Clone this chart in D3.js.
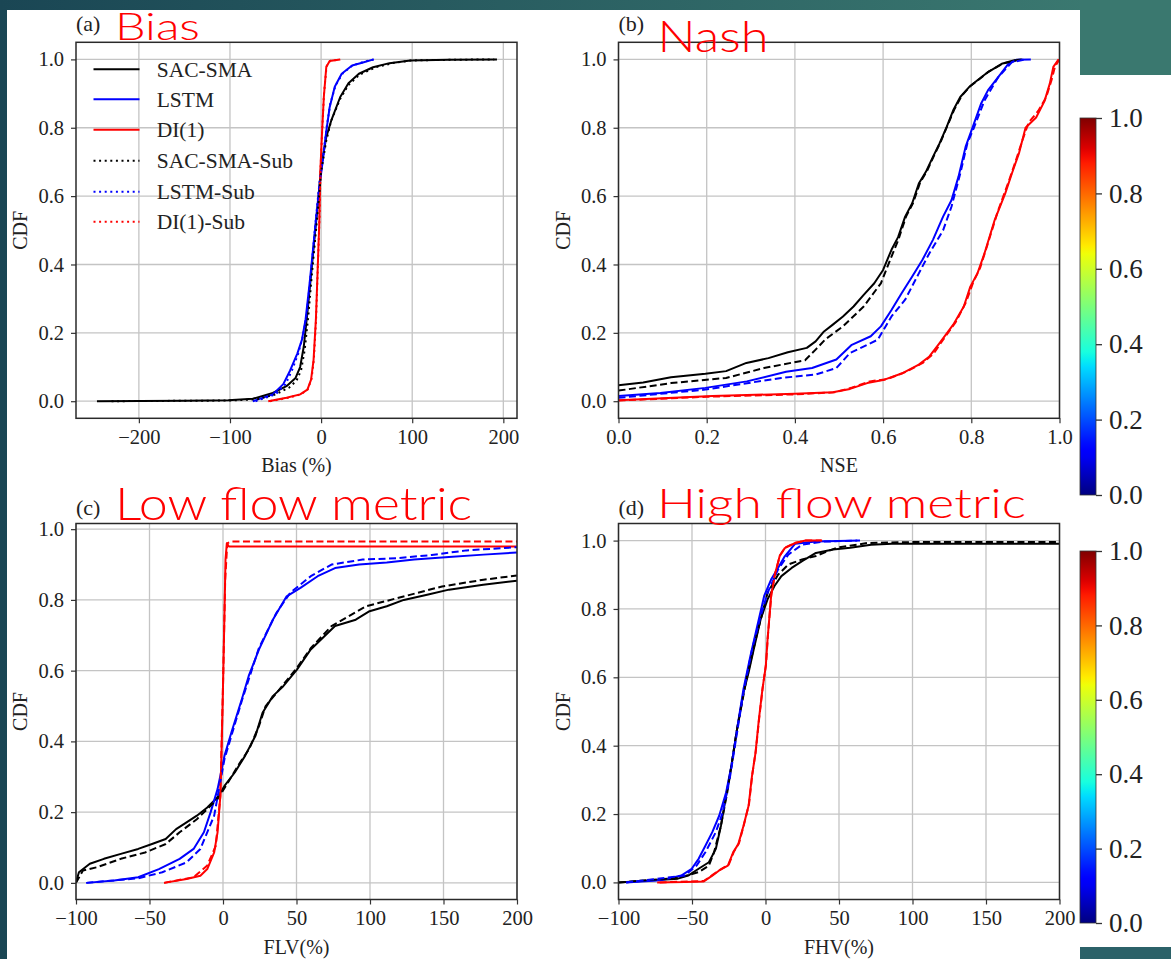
<!DOCTYPE html>
<html>
<head>
<meta charset="utf-8">
<title>CDF of Bias, NSE, FLV, FHV</title>
<style>
  html, body { margin: 0; padding: 0; background: #1c4a56; }
  svg { display: block; }
</style>
</head>
<body>
<script src="https://cdn.jsdelivr.net/npm/d3@7"></script>
<script>
// values, each point is [metric value, CDF]
var biasSac = [[-246,0],[-150,0.001],[-102,0.003],[-75,0.007],[-53,0.024],[-38,0.044],[-28,0.068],[-23,0.10],[-19,0.16],[-15,0.26],[-11,0.37],[-7.5,0.47],[-3.8,0.57],[0,0.686],[5.7,0.773],[11,0.82],[21,0.89],[30,0.93],[41.5,0.958],[57,0.977],[75,0.989],[98,0.997],[140,0.999],[193,1.0]];
var biasLstm = [[-75,0],[-53,0.02],[-41.5,0.05],[-34,0.09],[-26,0.14],[-21,0.18],[-17,0.24],[-13,0.335],[-9.4,0.43],[-5.7,0.53],[-1.9,0.627],[1.9,0.705],[5.7,0.79],[9.4,0.86],[15,0.92],[22.6,0.958],[34,0.982],[45,0.99],[57.7,1]];
var biasDi = [[-58,0],[-38,0.01],[-23,0.02],[-15,0.034],[-11,0.063],[-8.3,0.12],[-5.7,0.24],[-3.8,0.384],[-1.9,0.53],[-0.8,0.676],[1.1,0.79],[3,0.89],[5.7,0.978],[9.4,0.995],[20.8,1]];
var biasSacSub = [[-230,0],[-100,0.002],[-70,0.006],[-50,0.02],[-35,0.04],[-27,0.06],[-22,0.09],[-18,0.15],[-14,0.25],[-10.5,0.36],[-7,0.46],[-3.5,0.56],[0,0.67],[5.5,0.76],[11,0.82],[21,0.885],[30,0.925],[42,0.955],[60,0.977],[80,0.99],[100,0.997],[150,0.999],[190,1]];
var biasLstmSub = [[-72,0],[-50,0.02],[-39,0.05],[-32,0.09],[-25,0.14],[-20,0.19],[-16,0.25],[-12.5,0.34],[-9,0.44],[-5.5,0.54],[-1.8,0.64],[2,0.71],[6,0.8],[10,0.87],[16,0.925],[24,0.96],[35,0.983],[46,0.992],[58,1]];
var biasDiSub = [[-56,0],[-36,0.01],[-22,0.02],[-14.5,0.035],[-10.5,0.065],[-8,0.12],[-5.5,0.24],[-3.6,0.39],[-1.7,0.54],[-0.6,0.68],[1.3,0.8],[3.2,0.9],[6,0.98],[10,0.996],[21,1]];

var nseSac = [[0,0.047],[0.056,0.055],[0.119,0.07],[0.197,0.08],[0.244,0.088],[0.29,0.112],[0.34,0.126],[0.384,0.143],[0.427,0.156],[0.447,0.175],[0.466,0.204],[0.486,0.224],[0.509,0.248],[0.533,0.277],[0.556,0.311],[0.58,0.345],[0.6,0.384],[0.619,0.443],[0.634,0.48],[0.65,0.54],[0.666,0.579],[0.681,0.637],[0.697,0.671],[0.713,0.715],[0.728,0.754],[0.744,0.802],[0.759,0.851],[0.775,0.89],[0.795,0.919],[0.814,0.939],[0.838,0.963],[0.869,0.987],[0.9,0.998],[0.916,1]];
var nseLstm = [[0,0.015],[0.095,0.024],[0.197,0.039],[0.291,0.058],[0.38,0.086],[0.439,0.097],[0.494,0.122],[0.529,0.165],[0.572,0.19],[0.595,0.219],[0.619,0.267],[0.642,0.316],[0.666,0.365],[0.689,0.413],[0.713,0.472],[0.736,0.54],[0.755,0.588],[0.771,0.657],[0.787,0.744],[0.806,0.812],[0.822,0.87],[0.838,0.91],[0.861,0.948],[0.884,0.987],[0.904,0.999],[0.935,1]];
var nseDi = [[0,0.003],[0.213,0.015],[0.4,0.022],[0.486,0.026],[0.525,0.036],[0.564,0.053],[0.603,0.063],[0.642,0.081],[0.681,0.107],[0.705,0.131],[0.728,0.17],[0.759,0.224],[0.783,0.277],[0.798,0.336],[0.814,0.374],[0.83,0.433],[0.853,0.53],[0.877,0.608],[0.892,0.666],[0.908,0.725],[0.923,0.8],[0.947,0.83],[0.966,0.878],[0.978,0.929],[0.986,0.978],[0.998,1]];
var nseSacSub = [[0,0.031],[0.119,0.053],[0.244,0.068],[0.33,0.097],[0.423,0.12],[0.447,0.151],[0.47,0.182],[0.509,0.219],[0.556,0.277],[0.595,0.345],[0.619,0.423],[0.634,0.47],[0.652,0.54],[0.668,0.58],[0.684,0.64],[0.7,0.675],[0.716,0.72],[0.731,0.76],[0.747,0.81],[0.762,0.855],[0.778,0.893],[0.798,0.922],[0.818,0.942],[0.84,0.965],[0.872,0.988],[0.905,0.998],[0.92,1]];
var nseLstmSub = [[0,0.01],[0.197,0.034],[0.369,0.068],[0.447,0.078],[0.494,0.097],[0.525,0.141],[0.588,0.18],[0.619,0.248],[0.65,0.297],[0.681,0.374],[0.705,0.433],[0.736,0.5],[0.755,0.569],[0.775,0.666],[0.791,0.754],[0.806,0.8],[0.83,0.88],[0.861,0.948],[0.892,0.992],[0.923,1]];
var nseDiSub = [[0,0.002],[0.2,0.013],[0.4,0.02],[0.49,0.026],[0.53,0.04],[0.57,0.058],[0.61,0.065],[0.65,0.085],[0.69,0.112],[0.715,0.14],[0.735,0.178],[0.765,0.232],[0.788,0.29],[0.805,0.35],[0.82,0.39],[0.836,0.455],[0.86,0.555],[0.884,0.64],[0.9,0.7],[0.915,0.76],[0.93,0.815],[0.952,0.85],[0.97,0.89],[0.982,0.94],[0.99,0.98],[1.0,1.0]];

var flvSac = [[-100,0.002],[-98,0.03],[-90.6,0.054],[-81,0.068],[-69.5,0.082],[-57.7,0.096],[-48.3,0.11],[-39,0.124],[-31.9,0.152],[-24.8,0.171],[-17.8,0.19],[-10.7,0.213],[-3.7,0.242],[1,0.274],[8,0.312],[15,0.359],[22,0.415],[26.9,0.481],[33.9,0.528],[41,0.556],[50.3,0.603],[59.7,0.66],[69,0.697],[76.2,0.726],[90.3,0.744],[99.7,0.768],[111.4,0.782],[123,0.8],[139.6,0.815],[153.7,0.829],[177,0.843],[200,0.854]];
var flvLstm = [[-93,0],[-74,0.007],[-57.7,0.016],[-43.6,0.039],[-29.5,0.068],[-20,0.096],[-13,0.143],[-8.4,0.2],[-3.7,0.265],[1,0.359],[5.7,0.425],[12.8,0.519],[17.5,0.585],[24.5,0.66],[33.9,0.744],[43.3,0.81],[52.7,0.834],[64.4,0.867],[76.2,0.89],[92.6,0.9],[111.4,0.906],[130,0.914],[153.7,0.921],[177.2,0.928],[200,0.934]];
var flvDi = [[-40.1,0],[-24.8,0.011],[-15.4,0.02],[-10.7,0.039],[-6,0.086],[-3.7,0.143],[-1.8,0.246],[-0.9,0.387],[0.1,0.575],[1,0.763],[1.7,0.914],[2.6,0.96],[4,0.951],[200,0.951]];
var flvSacSub = [[-100,0],[-95.3,0.035],[-85.9,0.044],[-69.5,0.068],[-53,0.086],[-38.9,0.11],[-29.5,0.143],[-17.8,0.18],[-3.7,0.237],[3.4,0.284],[10,0.33],[18,0.38],[24.5,0.444],[29,0.5],[38,0.545],[50.3,0.608],[60,0.665],[73.8,0.726],[84,0.75],[97.3,0.782],[118.5,0.805],[149,0.838],[177.2,0.857],[200,0.869]];
var flvLstmSub = [[-93,0],[-57.7,0.013],[-41.3,0.03],[-24.8,0.058],[-15.4,0.096],[-6,0.19],[1,0.35],[12.8,0.515],[24.5,0.665],[36.3,0.763],[45.7,0.82],[59.7,0.867],[73.8,0.9],[95,0.914],[118.5,0.918],[142,0.927],[165.5,0.94],[200,0.949]];
var flvDiSub = [[-40.1,0],[-20,0.016],[-10.7,0.049],[-4.9,0.105],[-1.8,0.246],[0.1,0.575],[1.5,0.857],[2.9,0.96],[5.2,0.965],[200,0.965]];

var fhvSac = [[-100,0],[-76,0.006],[-59.6,0.011],[-52.6,0.02],[-45.5,0.04],[-38.5,0.059],[-33.8,0.098],[-30.3,0.166],[-26.8,0.254],[-23.2,0.341],[-19.7,0.439],[-15,0.555],[-11.5,0.614],[-8,0.682],[-3.3,0.77],[1.4,0.828],[6.1,0.867],[10.8,0.896],[17.8,0.92],[24.9,0.94],[34.3,0.964],[46,0.974],[57.7,0.979],[71.8,0.988],[85.9,0.991],[200,0.991]];
var fhvLstm = [[-94.8,0],[-71.4,0.006],[-57.3,0.02],[-50.2,0.04],[-45.5,0.069],[-40.8,0.108],[-36.2,0.147],[-31.5,0.195],[-26.8,0.263],[-23.2,0.341],[-19.7,0.439],[-15,0.565],[-10.3,0.662],[-5.6,0.75],[-0.9,0.838],[3.8,0.886],[8.5,0.92],[13.1,0.954],[20.2,0.991],[34.3,0.997],[64.3,1]];
var fhvDi = [[-73.7,0],[-54.9,0.001],[-42,0.003],[-36.2,0.02],[-31.5,0.035],[-25.6,0.049],[-22,0.088],[-18.5,0.112],[-15,0.165],[-11.5,0.224],[-9.2,0.311],[-6.8,0.379],[-4.5,0.477],[-2.1,0.565],[0.2,0.633],[1.4,0.711],[3.8,0.837],[6.1,0.896],[9.6,0.954],[13.1,0.978],[20.2,0.993],[27.2,1],[38.5,1]];
var fhvSacSub = [[-100,0],[-59.6,0.013],[-45.5,0.03],[-38.5,0.049],[-35,0.088],[-30.3,0.166],[-25.6,0.273],[-19.7,0.44],[-12.7,0.6],[-5.6,0.73],[1.4,0.847],[8.5,0.9],[15.5,0.93],[24.9,0.945],[34.3,0.955],[48.4,0.979],[69.5,0.993],[104.7,0.996],[200,0.996]];
var fhvLstmSub = [[-94.8,0],[-54.9,0.02],[-46.7,0.05],[-40.8,0.089],[-33.8,0.147],[-29.1,0.205],[-24.4,0.302],[-19.7,0.429],[-15,0.555],[-9.2,0.681],[-3.3,0.779],[1.4,0.847],[8.5,0.915],[15.5,0.959],[24.9,0.988],[39,0.997],[62.4,1]];
var fhvDiSub = [[-72,0],[-42,0.004],[-36,0.022],[-31,0.037],[-25,0.052],[-21.5,0.09],[-18,0.115],[-14.6,0.17],[-11.2,0.23],[-9,0.315],[-6.6,0.385],[-4.3,0.48],[-1.9,0.57],[0.4,0.64],[1.6,0.72],[4,0.845],[6.4,0.9],[9.8,0.957],[13.4,0.98],[20.5,0.994],[27.5,1],[38,1]];

var seriesNames = ["SAC-SMA", "LSTM", "DI(1)", "SAC-SMA-Sub", "LSTM-Sub", "DI(1)-Sub"];
var cdfTicks = [0, 0.2, 0.4, 0.6, 0.8, 1.0];
var biasTicks = [-200, -100, 0, 100, 200];
var nseTicks = [0, 0.2, 0.4, 0.6, 0.8, 1.0];
var flowTicks = [-100, -50, 0, 50, 100, 150, 200];
var cbarTicks = [0, 0.2, 0.4, 0.6, 0.8, 1.0];

var width = 1171, height = 959;
var colors = ["#000000", "#0000ff", "#ff0000"];
var serif = "'Liberation Serif', 'DejaVu Serif', serif";
var sans = "Lato, 'Open Sans', sans-serif";
var pw = 441, ph = 376;

var svg = d3.select("body").append("svg")
    .attr("width", width)
    .attr("height", height);
var defs = svg.append("defs");

// slide background
var bg = defs.append("linearGradient").attr("id", "bg")
    .attr("x1", 0).attr("y1", 0).attr("x2", 1).attr("y2", 0);
bg.append("stop").attr("offset", 0).attr("stop-color", "#1a4654");
bg.append("stop").attr("offset", 1).attr("stop-color", "#3d7c72");
svg.append("rect").attr("width", width).attr("height", height).attr("fill", "url(#bg)");
svg.append("rect").attr("x", 7).attr("y", 10).attr("width", width - 7).attr("height", height - 10).attr("fill", "#ffffff");
svg.append("rect").attr("x", 1080).attr("y", 0).attr("width", 91).attr("height", 75).attr("fill", "#3a786f");
svg.append("rect").attr("x", 1080).attr("y", 947).attr("width", 91).attr("height", 12).attr("fill", "#2b6168");

var panels = [
  { id: "a", tag: "(a)", title: "Bias", left: 76, top: 42.3, xdom: [-269, 215], ydom: [-0.05, 1.05],
    xticks: biasTicks, xfmt: d3.format("d"), xlabel: "Bias (%)", dash: "2,3.6",
    data: [biasSac, biasLstm, biasDi, biasSacSub, biasLstmSub, biasDiSub],
    tt: { x: 115, y: 40, w: 85, size: 37 }, tagY: 31, legend: true },
  { id: "b", tag: "(b)", title: "Nash", left: 618.5, top: 42.3, xdom: [0, 1], ydom: [-0.05, 1.05],
    xticks: nseTicks, xfmt: d3.format(".1f"), xlabel: "NSE", dash: "7,3.5",
    data: [nseSac, nseLstm, nseDi, nseSacSub, nseLstmSub, nseDiSub],
    tt: { x: 657.5, y: 51.5, w: 111, size: 44 }, tagY: 31 },
  { id: "c", tag: "(c)", title: "Low flow metric", left: 76, top: 523.5, xdom: [-100, 200], ydom: [-0.047, 1.016],
    xticks: flowTicks, xfmt: d3.format("d"), xlabel: "FLV(%)", dash: "7,3.5",
    data: [flvSac, flvLstm, flvDi, flvSacSub, flvLstmSub, flvDiSub],
    tt: { x: 115, y: 520, w: 357, size: 45 }, tagY: 515 },
  { id: "d", tag: "(d)", title: "High flow metric", left: 618.5, top: 523.5, xdom: [-100, 200], ydom: [-0.05, 1.05],
    xticks: flowTicks, xfmt: d3.format("d"), xlabel: "FHV(%)", dash: "7,3.5",
    data: [fhvSac, fhvLstm, fhvDi, fhvSacSub, fhvLstmSub, fhvDiSub],
    tt: { x: 657, y: 518, w: 369, size: 42 }, tagY: 515 }
];

panels.forEach(function(p) {
  var g = svg.append("g").attr("transform", "translate(" + p.left + "," + p.top + ")");
  var x = d3.scaleLinear().domain(p.xdom).range([0, pw]);
  var y = d3.scaleLinear().domain(p.ydom).range([ph, 0]);

  defs.append("clipPath").attr("id", "clip-" + p.id)
    .append("rect").attr("width", pw).attr("height", ph);

  // grid
  g.append("g").selectAll("line.gx").data(p.xticks).join("line")
    .attr("x1", function(d) { return x(d); }).attr("x2", function(d) { return x(d); })
    .attr("y1", 0).attr("y2", ph)
    .attr("stroke", "#c4c4c4").attr("stroke-width", 1.3);
  g.append("g").selectAll("line.gy").data(cdfTicks).join("line")
    .attr("y1", function(d) { return y(d); }).attr("y2", function(d) { return y(d); })
    .attr("x1", 0).attr("x2", pw)
    .attr("stroke", "#c4c4c4").attr("stroke-width", 1.3);

  // curves
  var line = d3.line()
    .x(function(d) { return x(d[0]); })
    .y(function(d) { return y(d[1]); });
  var curves = g.append("g").attr("clip-path", "url(#clip-" + p.id + ")");
  p.data.forEach(function(s, i) {
    curves.append("path")
      .attr("d", line(s))
      .attr("fill", "none")
      .attr("stroke", colors[i % 3])
      .attr("stroke-width", 2)
      .attr("stroke-linejoin", "round")
      .attr("stroke-dasharray", i >= 3 ? p.dash : null);
  });

  // axes
  var xAxis = g.append("g").attr("transform", "translate(0," + ph + ")")
    .call(d3.axisBottom(x).tickValues(p.xticks).tickFormat(p.xfmt).tickSize(5).tickPadding(6));
  var yAxis = g.append("g")
    .call(d3.axisLeft(y).tickValues(cdfTicks).tickFormat(d3.format(".1f")).tickSize(5).tickPadding(7));
  [xAxis, yAxis].forEach(function(a) {
    a.select(".domain").remove();
    a.selectAll("line").attr("stroke", "#333").attr("stroke-width", 1.2);
    a.selectAll("text").attr("font-family", serif).attr("font-size", 20.5).attr("fill", "#222");
  });

  g.append("rect").attr("width", pw).attr("height", ph)
    .attr("fill", "none").attr("stroke", "#2a2a2a").attr("stroke-width", 1.5);

  // axis titles
  g.append("text")
    .attr("x", pw / 2).attr("y", ph + 54)
    .attr("text-anchor", "middle")
    .attr("font-family", serif).attr("font-size", 20).attr("fill", "#222")
    .text(p.xlabel);
  g.append("text")
    .attr("transform", "translate(" + (-49) + "," + (ph / 2) + ") rotate(-90)")
    .attr("text-anchor", "middle")
    .attr("font-family", serif).attr("font-size", 20).attr("fill", "#222")
    .text("CDF");

  // panel tag and red slide caption
  svg.append("text")
    .attr("x", p.left).attr("y", p.tagY)
    .attr("font-family", serif).attr("font-size", 22).attr("fill", "#222")
    .text(p.tag);
  svg.append("text")
    .attr("x", p.tt.x).attr("y", p.tt.y)
    .attr("font-family", sans).attr("font-weight", 300)
    .attr("font-size", p.tt.size).attr("fill", "#ff0000")
    .attr("textLength", p.tt.w).attr("lengthAdjust", "spacingAndGlyphs")
    .text(p.title);

  if (p.legend) {
    var rowY = [27, 57, 87.5, 118.5, 149.5, 179.5];
    var lg = g.append("g");
    seriesNames.forEach(function(name, i) {
      lg.append("line")
        .attr("x1", 17.5).attr("x2", 63.5)
        .attr("y1", rowY[i]).attr("y2", rowY[i])
        .attr("stroke", colors[i % 3]).attr("stroke-width", 2)
        .attr("stroke-dasharray", i >= 3 ? p.dash : null);
      lg.append("text")
        .attr("x", 80.7).attr("y", rowY[i]).attr("dy", "0.35em")
        .attr("font-family", serif).attr("font-size", 21.5).attr("fill", "#222")
        .text(name);
    });
  }
});

// jet colour map for the two colour bars
function jet(t) {
  function seg(pts) {
    for (var i = 1; i < pts.length; i++) {
      if (t <= pts[i][0]) {
        var a = pts[i - 1], b = pts[i];
        return a[1] + (b[1] - a[1]) * (t - a[0]) / (b[0] - a[0]);
      }
    }
    return pts[pts.length - 1][1];
  }
  var r = seg([[0, 0], [0.35, 0], [0.66, 1], [0.89, 1], [1, 0.5]]);
  var gg = seg([[0, 0], [0.125, 0], [0.375, 1], [0.64, 1], [0.91, 0], [1, 0]]);
  var b = seg([[0, 0.5], [0.11, 1], [0.34, 1], [0.65, 0], [1, 0]]);
  return d3.rgb(r * 255, gg * 255, b * 255).formatHex();
}
var jetGrad = defs.append("linearGradient").attr("id", "jet")
    .attr("x1", 0).attr("y1", 1).attr("x2", 0).attr("y2", 0);
d3.range(0, 1.0001, 0.02).forEach(function(t) {
  jetGrad.append("stop").attr("offset", t).attr("stop-color", jet(t));
});

var cbars = [{ top: 118, bottom: 495 }, { top: 551, bottom: 923 }];
cbars.forEach(function(c) {
  var cy = d3.scaleLinear().domain([0, 1]).range([c.bottom, c.top]);
  var cg = svg.append("g").attr("transform", "translate(1080,0)");
  cg.append("rect").attr("x", 0).attr("y", c.top).attr("width", 16).attr("height", c.bottom - c.top)
    .attr("fill", "url(#jet)");
  var ax = cg.append("g").attr("transform", "translate(16,0)")
    .call(d3.axisRight(cy).tickValues(cbarTicks).tickFormat(d3.format(".1f")).tickSize(6).tickPadding(7));
  ax.select(".domain").remove();
  ax.selectAll("line").attr("stroke", "#333").attr("stroke-width", 1.3);
  ax.selectAll("text").attr("font-family", serif).attr("font-size", 27).attr("fill", "#222");
  cg.append("rect").attr("x", 0).attr("y", c.top).attr("width", 16).attr("height", c.bottom - c.top)
    .attr("fill", "none").attr("stroke", "#333").attr("stroke-width", 0.8);
});
</script>
</body>
</html>
